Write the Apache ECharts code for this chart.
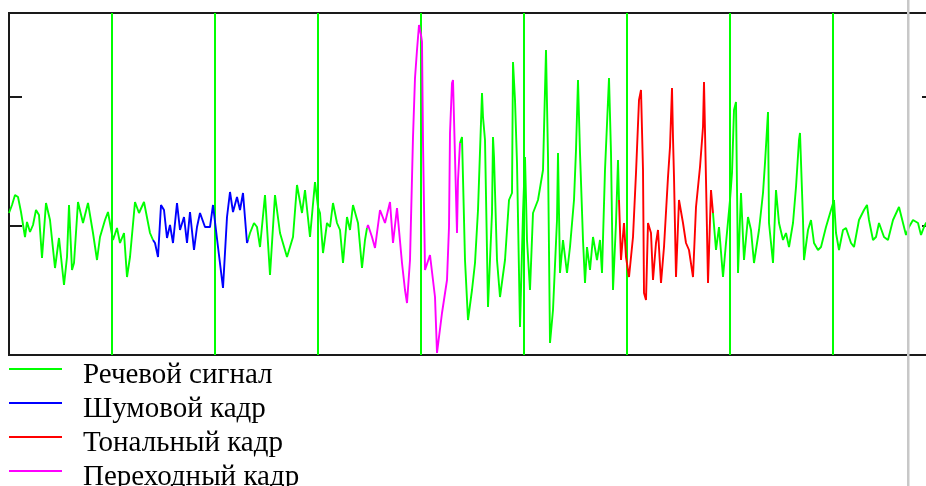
<!DOCTYPE html>
<html>
<head>
<meta charset="utf-8">
<script src="https://cdn.jsdelivr.net/npm/echarts@6/dist/echarts.min.js"></script>
<style>
  html, body { margin: 0; padding: 0; background: #ffffff; overflow: hidden; }
  #chart { width: 935px; height: 486px; }
</style>
</head>
<body>
<div id="chart"></div>
<script>
// Frame length (samples) used for the vertical frame boundaries
const FRAME = 103;

// Speech signal: sample index and amplitude at its turning points
const sampleIndex = [
  0, 3, 6, 9, 12, 16, 18, 21, 24, 27, 30, 33, 37, 41, 46, 50, 55, 58, 60, 63,
  65, 69, 74, 79, 84, 88, 91, 96, 99, 104, 108, 111, 115, 118, 121, 126, 130, 135, 141, 144,
  146, 149, 152, 155, 158, 161, 164, 168, 171, 175, 178, 181, 185, 188, 191, 196, 201, 204, 209, 214,
  218, 221, 224, 228, 231, 234, 238, 239,
  241, 245, 248, 251, 256, 261, 266, 271, 278, 284, 288, 293, 296, 301, 306, 309, 311, 314, 318, 321,
  324, 328, 331, 334, 338, 341, 344, 349, 353, 356, 358,
  359, 363, 366, 371, 376, 381, 384, 388, 393, 396, 398, 401, 404, 406, 408, 410, 412, 413, 414, 416,
  421, 426, 428, 433, 438, 440, 441, 443, 444, 446, 448, 449, 451,
  453, 456, 459, 463, 466, 469, 473, 474, 476, 479, 483, 484, 485, 488, 491, 496, 500, 503, 504, 506,
  508, 511, 514, 516, 518, 521, 524, 529, 534, 537, 539, 541, 544, 548, 549, 551, 554, 558, 561, 565,
  567, 569, 571, 574, 576, 578, 581, 584, 588, 591, 593, 596, 600, 602, 604, 607, 609, 610,
  612, 615, 617, 620, 624, 627, 630, 632, 634, 635, 637, 639, 642, 644, 647, 649, 652, 655, 659, 661,
  663, 664, 665, 667, 670, 674, 677, 680, 684, 687, 691, 694, 695, 697, 699, 702, 704,
  707, 710, 714, 717, 721, 723, 725, 727, 729, 732, 735, 739, 742, 745, 750, 754, 756, 759, 760, 764,
  767, 770, 774, 777, 780, 784, 787, 790, 791, 794, 795, 799, 802, 805, 809, 812, 817, 822, 825, 827,
  830, 834, 837, 842, 845, 850, 855, 858, 860, 864, 867, 870, 875, 879, 884, 890, 894, 897, 900, 904,
  909, 912, 915, 917, 921, 926
];
const amplitude = [
  13, 21, 31, 29, 14, -11, 4, -6, 1, 16, 11, -32, 23, 6, -42, -12, -59, -31, 21, -44,
  -37, 24, 3, 23, -7, -34, -11, 6, 14, -14, -2, -17, -7, -51, -31, 24, 13, 24, -7, -14,
  -17, -31, 21, 16, -12, 1, -17, 23, -4, 9, -17, 14, -24, -1, 13, -1, -1, 21, -21, -62,
  9, 34, 14, 29, 16, 33, -17, -14,
  -7, 3, -1, -21, 31, -49, 31, -7, -31, -11, 41, 13, 36, -11, 44, 19, 13, -27, 3, -1,
  23, 3, -4, -37, 9, -4, 21, 3, -42, -14, -2,
  1, -11, -22, 16, 3, 24, -17, 18, -37, -64, -77, -34, 89, 148, 176, 201, 191, 184, 84, -44,
  -29, -71, -127, -87, -54, -1, 93, 143, 146, 69, -7, 46, 83,
  89, -34, -94, -64, -37, 16, 133, 109, 86, -81, 13, 89, 69, -34, -71, -34, 26, 33, 164, 126,
  63, -101, 13, 69, -14, -64, 13, 26, 56, 176, 69, -117, -84, 6, 73, -47, -14, -47, -21, 26,
  76, 146, 73, -14, -57, -21, -44, -11, -34, -14, -47, 56, 148, 73, -64, 3, 66, 26,
  -34, 3, -31, -51, -11, 53, 126, 136, 56, -67, -74, 3, -7, -54, -17, -4, -57, -21, 49, 79,
  138, 88, 49, -51, 26, 3, -17, -24, -51, 19, 59, 99, 144, 46, -57, 36, 13,
  -24, -1, -51, -17, 26, 53, 116, 124, -47, 33, -34, 9, -4, -37, -4, 33, 63, 114, 3, -37,
  36, 3, -14, -7, -21, 3, 39, 86, 93, 6, -34, -4, 6, -17, -24, -21, -1, 16, 26, -7,
  -24, -4, -2, -17, -21, 6, 16, 21, 6, -14, -11, 3, -11, -14, 6, 19, 3, -9, -1, 6,
  3, -9, -1, 3, 5, -2
];

// Sample ranges of the marked analysis frames
const noiseFrame = [144, 239];
const toneFrame = [610, 704];
const transitionFrame = [358, 451];

// Series labels and colours
const seriesNames = ['Речевой сигнал', 'Шумовой кадр', 'Тональный кадр', 'Переходный кадр'];
const seriesColors = ['#00ff00', '#0000ff', '#ff0000', '#ff00ff'];

// Amplitude axis
const ampMin = -129, ampMax = 213, ampStep = 129;

const points = sampleIndex.map((t, i) => [t, amplitude[i]]);
const marked = [noiseFrame, toneFrame, transitionFrame];
const pick = (range) => points.filter(p => p[0] >= range[0] && p[0] <= range[1]);

// The plain signal skips the marked frames so the coloured traces sit cleanly on top
const plain = [];
points.forEach(p => {
  const inside = marked.some(r => p[0] > r[0] && p[0] < r[1]);
  if (inside) {
    if (plain.length && plain[plain.length - 1][1] !== '-') plain.push([p[0], '-']);
  } else {
    plain.push(p);
  }
});

const seriesData = [plain, pick(noiseFrame), pick(toneFrame), pick(transitionFrame)];

const chart = echarts.init(document.getElementById('chart'), null, { renderer: 'canvas' });

const yAxisBase = {
  type: 'value',
  min: ampMin,
  max: ampMax,
  interval: ampStep,
  axisLine: { show: false },
  axisTick: { show: true, inside: true, length: 13, lineStyle: { color: '#1a1a1a', width: 2 } },
  axisLabel: { show: false },
  splitLine: { show: false }
};

// Legend drawn as line samples with serif captions
const overlay = [];
seriesNames.forEach((name, i) => {
  const y = 369 + i * 34;
  overlay.push({
    type: 'line',
    shape: { x1: 9, y1: y, x2: 62, y2: y },
    style: { stroke: seriesColors[i], lineWidth: 2 },
    silent: true
  });
  overlay.push({
    type: 'text',
    x: 83,
    y: y + 6,
    style: {
      text: name,
      fill: '#000000',
      font: '29px "Liberation Serif", "Times New Roman", serif',
      verticalAlign: 'middle',
      align: 'left'
    },
    silent: true
  });
});

// Window splitter on the right
overlay.push({
  type: 'rect',
  shape: { x: 907, y: 0, width: 2.5, height: 486 },
  style: { fill: '#c8c8c8' },
  z: 100,
  silent: true
});

chart.setOption({
  animation: false,
  backgroundColor: '#ffffff',
  grid: {
    left: 9,
    top: 13,
    right: 0,
    height: 342,
    show: true,
    borderColor: '#1a1a1a',
    borderWidth: 2,
    backgroundColor: 'transparent'
  },
  xAxis: {
    type: 'value',
    min: 0,
    max: 926,
    interval: FRAME,
    axisLine: { show: false },
    axisTick: { show: false },
    axisLabel: { show: false },
    splitLine: { show: true, showMinLine: false, lineStyle: { color: '#00ff00', width: 2 } }
  },
  yAxis: [
    Object.assign({ position: 'left' }, yAxisBase),
    Object.assign({ position: 'right' }, yAxisBase)
  ],
  series: seriesNames.map((name, i) => ({
    name: name,
    type: 'line',
    data: seriesData[i],
    showSymbol: false,
    symbol: 'none',
    smooth: false,
    connectNulls: false,
    z: 2 + i,
    lineStyle: { color: seriesColors[i], width: 1.9 },
    itemStyle: { color: seriesColors[i] }
  })),
  graphic: overlay
});
</script>
</body>
</html>
